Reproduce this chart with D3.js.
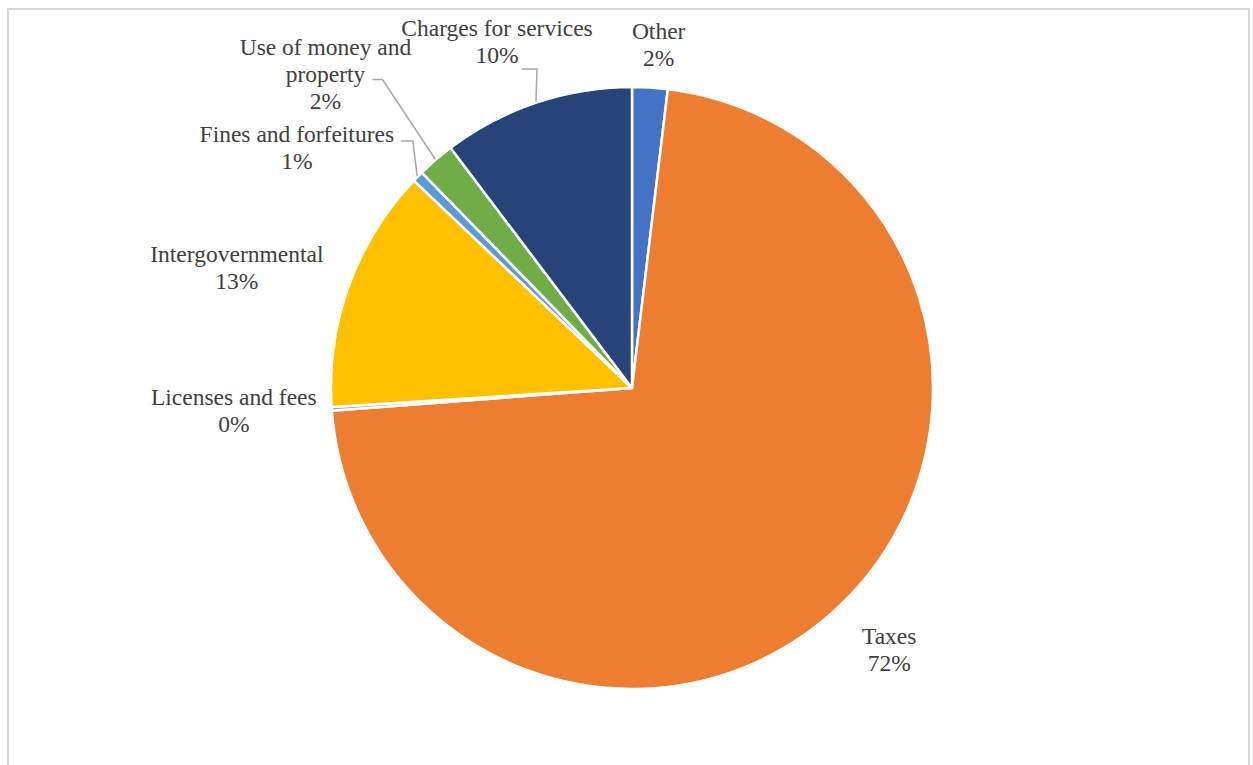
<!DOCTYPE html>
<html>
<head>
<meta charset="utf-8">
<script src="https://cdn.jsdelivr.net/npm/d3@7"></script>
<style>
  html, body { margin: 0; padding: 0; background: #fff; }
  svg { display: block; }
  text { font-family: "Liberation Serif", "DejaVu Serif", serif; }
</style>
</head>
<body>
<svg id="chart" width="1253" height="765"></svg>
<script>
// Revenue sources, percent of total (clockwise from 12 o'clock)
const categories = [
  "Other",
  "Taxes",
  "Licenses and fees",
  "Intergovernmental",
  "Fines and forfeitures",
  "Use of money and property",
  "Charges for services"
];
const shares = [1.9, 71.9, 0.2, 13.1, 0.6, 2.0, 10.3];
const colors = ["#4472C4", "#ED7D31", "#A5A5A5", "#FFC000", "#5B9BD5", "#70AD47", "#264478"];

// Label text broken into lines
const labelLines = [
  ["Other"],
  ["Taxes"],
  ["Licenses and fees"],
  ["Intergovernmental"],
  ["Fines and forfeitures"],
  ["Use of money and", "property"],
  ["Charges for services"]
];

// Label placement: nudge from a point just outside the pie on the slice's mid-angle
const labelNudge = [
  [6, 2], [18, 12], [-53, -1], [-70, -2], [-89, 3], [-81, -52], [-25, -18]
];
// Leader lines (null = none): [end, elbow] offsets from the label centre
const leaders = [
  null, null, null, null,
  [[104, -7], [116, -7]],
  [[47, 6], [57, 6]],
  [[25, 27], [40, 27]]
];

const W = 1253, H = 765;
const cx = 632, cy = 388, R = 301;
const labelGap = 45;
const lineStep = 27;

const svg = d3.select("#chart");

// chart area border
svg.append("rect")
  .attr("x", 8).attr("y", 9)
  .attr("width", 1241).attr("height", 800)
  .attr("fill", "#fff")
  .attr("stroke", "#d9d9d9")
  .attr("stroke-width", 2);

const data = categories.map((c, i) => ({ name: c, value: shares[i], i }));

const pie = d3.pie()
  .value(d => d.value)
  .sort(null)
  .startAngle(0)
  .endAngle(2 * Math.PI);

const arcs = pie(data);
const arc = d3.arc().innerRadius(0).outerRadius(R);

const g = svg.append("g").attr("transform", `translate(${cx},${cy})`);

g.selectAll("path.slice")
  .data(arcs)
  .join("path")
  .attr("class", "slice")
  .attr("d", arc)
  .attr("fill", d => colors[d.data.i])
  .attr("stroke", "#fff")
  .attr("stroke-width", 2.5)
  .attr("stroke-linejoin", "round");

const total = d3.sum(shares);
const pct = v => Math.round(v / total * 100) + "%";

function polar(r, a) {
  return [r * Math.sin(a), -r * Math.cos(a)];
}

arcs.forEach(d => {
  const i = d.data.i;
  const mid = (d.startAngle + d.endAngle) / 2;
  const base = polar(R + labelGap, mid);
  const lx = base[0] + labelNudge[i][0];
  const ly = base[1] + labelNudge[i][1];

  if (leaders[i]) {
    const edge = polar(R + 1, mid);
    const [end, elbow] = leaders[i];
    const pts = [edge, [lx + elbow[0], ly + elbow[1]], [lx + end[0], ly + end[1]]];
    g.append("path")
      .attr("d", d3.line()(pts))
      .attr("fill", "none")
      .attr("stroke", "#a6a6a6")
      .attr("stroke-width", 1.5);
  }

  const lines = labelLines[i].concat([pct(d.data.value)]);
  const n = lines.length;
  const t = g.append("text")
    .attr("text-anchor", "middle")
    .style("font-size", "23.5px")
    .attr("fill", "#404040");
  lines.forEach((s, k) => {
    t.append("tspan")
      .attr("x", lx)
      .attr("y", ly + (k - (n - 1) / 2) * lineStep + 8)
      .text(s);
  });
});
</script>
</body>
</html>
